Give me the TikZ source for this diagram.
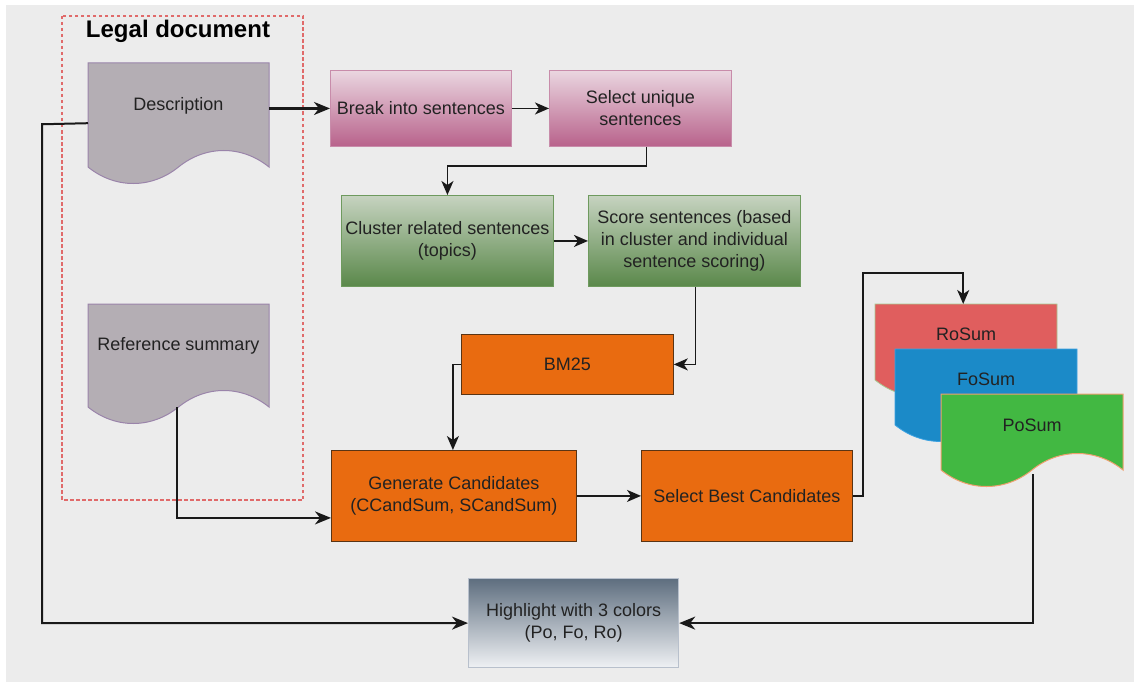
\documentclass[tikz,border=0pt]{standalone}
\usepackage{fontspec}
\setmainfont{Liberation Sans}
\usetikzlibrary{arrows.meta,calc}

\definecolor{bgray}{HTML}{ECECEC}
\definecolor{docfill}{HTML}{B4AEB4}
\definecolor{docline}{HTML}{9A84AA}
\definecolor{pinktop}{HTML}{EAD6E0}
\definecolor{pinkbot}{HTML}{B8628B}
\definecolor{pinkline}{HTML}{C88CAA}
\definecolor{greentop}{HTML}{C6D3C0}
\definecolor{greenbot}{HTML}{5A884A}
\definecolor{greenline}{HTML}{6E9A5E}
\definecolor{orangefill}{HTML}{E96B10}
\definecolor{orangeline}{HTML}{5A3414}
\definecolor{hltop}{HTML}{5E6E7F}
\definecolor{hlbot}{HTML}{EFF1F4}
\definecolor{hlline}{HTML}{B8C0CC}
\definecolor{rofill}{HTML}{E05E5E}
\definecolor{roline}{HTML}{A8C890}
\definecolor{fofill}{HTML}{1B8AC8}
\definecolor{foline}{HTML}{3CA2E2}
\definecolor{pofill}{HTML}{42B842}
\definecolor{poline}{HTML}{F0A070}
\definecolor{dashred}{HTML}{E06A6A}
\definecolor{txt}{HTML}{222222}

% document shape with a wavy lower edge: #1 name, #2 x, #3 y, #4 width,
% #5 height of the straight sides, #6 style, #7 text, #8 text offset from top
\newcommand\wavedoc[8]{%
  \path[#6] (#2,#3) -- ({#2+#4},#3) -- ({#2+#4},{#3+#5})
    .. controls ({#2+0.85*#4},{#3+#5-22}) and ({#2+0.65*#4},{#3+#5-22}) .. ({#2+0.5*#4},{#3+#5})
    .. controls ({#2+0.35*#4},{#3+#5+22}) and ({#2+0.15*#4},{#3+#5+22}) .. (#2,{#3+#5})
    -- cycle;
  \node[inner sep=0pt, minimum width=#4pt, minimum height=#5pt, anchor=north west] (#1) at (#2,#3) {};
  \node[doctext] (#1-t) at ({#2+0.5*#4},{#3+#8}) {#7};
}

\tikzset{
  doctext/.style={font=\fontsize{18}{22}\selectfont, text=txt, align=center, inner sep=0pt},
  procbox/.style={draw, line width=0.9pt, inner sep=2pt, align=center, text=txt,
    font=\fontsize{18}{22}\selectfont, anchor=north west},
  pinkbox/.style={procbox, draw=pinkline, top color=pinktop, bottom color=pinkbot},
  greenbox/.style={procbox, draw=greenline, top color=greentop, bottom color=greenbot},
  orangebox/.style={procbox, draw=orangeline, fill=orangefill, line width=0.8pt},
  hlbox/.style={procbox, draw=hlline, top color=hltop, bottom color=hlbot, line width=1.2pt},
  arr/.style={draw=black!90, line width=1.7pt, -{Stealth[length=14pt,width=12pt,inset=4pt]}},
  bigarr/.style={draw=black!90, line width=2.4pt, -{Stealth[length=16pt,width=13pt,inset=5pt]}},
}

\begin{document}
\begin{tikzpicture}[x=1pt,y=-1pt]
  \useasboundingbox (0,0) rectangle (1134,682);
  \fill[bgray] (6,5) rectangle (1134,682);

  % input document frame
  \draw[dashred, line width=1.3pt, dash pattern=on 3.5pt off 2.5pt] (62,16) rectangle (303,500);
  \node[font=\fontsize{24}{28}\selectfont\bfseries, text=black, anchor=base] (legal) at (178,38) {Legal document};

  \wavedoc{desc}{88}{63}{181}{104}{fill=docfill, draw=docline, line width=1pt}{Description}{43}
  \wavedoc{ref}{88}{304}{181}{103}{fill=docfill, draw=docline, line width=1pt}{Reference summary}{42}

  % preprocessing
  \node[pinkbox, minimum width=181pt, minimum height=76pt] (brk) at (330,70) {Break into sentences};
  \node[pinkbox, minimum width=182pt, minimum height=76pt] (su) at (549,70) {Select unique\\sentences};
  \node[greenbox, minimum width=212pt, minimum height=91pt] (cl) at (341,195) {Cluster related sentences\\(topics)};
  \node[greenbox, minimum width=212pt, minimum height=91pt] (sc) at (588,195) {Score sentences (based\\in cluster and individual\\sentence scoring)};

  % candidate generation
  \node[orangebox, minimum width=212pt, minimum height=60pt] (bm) at (461,334) {BM25};
  \node[orangebox, minimum width=245pt, minimum height=91pt] (gen) at (331,450) {Generate Candidates\\(CCandSum, SCandSum)};
  \node[orangebox, minimum width=211pt, minimum height=91pt] (sb) at (641,450) {Select Best Candidates};

  % output summaries
  \wavedoc{ro}{875}{304}{182}{76}{fill=rofill, draw=roline, line width=0.8pt}{RoSum}{30}
  \wavedoc{fo}{895}{349}{182}{76}{fill=fofill, draw=foline, line width=0.8pt}{FoSum}{30}
  \wavedoc{po}{941}{394}{182}{76}{fill=pofill, draw=poline, line width=1pt}{PoSum}{31}

  \node[hlbox, minimum width=210pt, minimum height=89pt] (hl) at (468,578) {Highlight with 3 colors\\(Po, Fo, Ro)};

  % connectors
  \draw[bigarr] (desc.east |- brk.west) -- (brk.west);
  \draw[arr] (brk.east) -- (su.west);
  \draw[arr] ([xshift=6pt]su.south) -- ++(0,19) -| (cl.north);
  \draw[arr] (cl.east) -- (sc.west);
  \draw[arr] ([xshift=1pt]sc.south) |- (bm.east);
  \draw[arr] (bm.west) -| ([xshift=-1pt]gen.north);
  \draw[bigarr, line width=2pt] ([xshift=-2pt]ref.south) |- ($(gen.west)+(0,22)$);
  \draw[arr] (gen.east) -- (sb.west);
  \draw[arr] (sb.east) -- ++(10,0) -- ++(0,-223) -| ([xshift=-3pt]ro.north);
  \draw[bigarr, line width=2pt] ($(desc.west)+(0,8)$) -- ++(-43,1) -- ++(-3,0) |- (hl.west);
  \draw[bigarr, line width=2pt] ([xshift=1pt,yshift=-4pt]po.south) |- (hl.east);
\end{tikzpicture}
\end{document}
